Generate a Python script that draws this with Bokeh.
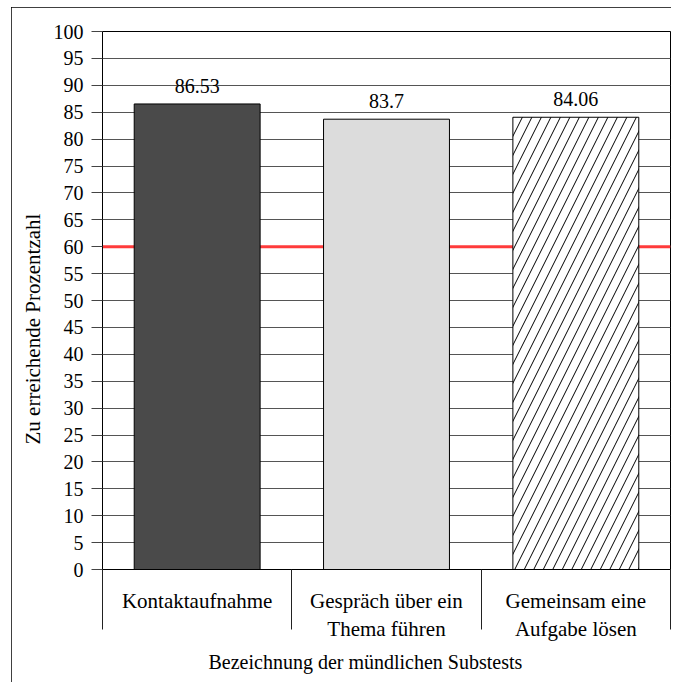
from bokeh.plotting import figure
from bokeh.models import (FactorRange, Range1d, LinearAxis, FixedTicker, Span,
                          Title, ColumnDataSource)
from bokeh.core.properties import value
from bokeh.embed import file_html
from bokeh.resources import INLINE

# ---- data ----
categories = ["Kontaktaufnahme", "Gespräch über ein Thema führen",
              "Gemeinsam eine Aufgabe lösen"]
category_labels = ["Kontaktaufnahme", "Gespräch über ein\nThema führen",
                   "Gemeinsam eine\nAufgabe lösen"]
values = [86.53, 83.7, 84.06]
value_labels = ["86.53", "83.7", "84.06"]
bar_colors = ["#4a4a4a", "#dcdcdc", "#ffffff"]
bar_hatches = [" ", " ", "/"]
y_ticks = [0, 5, 10, 15, 20, 25, 30, 35, 40, 45, 50,
           55, 60, 65, 70, 75, 80, 85, 90, 95, 100]
threshold = 60
x_title = "Bezeichnung der mündlichen Substests"
y_title = "Zu erreichende Prozentzahl"

FONT = "Liberation Serif"
FS = "20px"
FS_CAT = "21px"

src = ColumnDataSource(dict(cat=categories, val=values, lbl=value_labels,
                            color=bar_colors, hatch=bar_hatches))

p = figure(width=660, height=675,
           x_range=FactorRange(factors=categories, range_padding=0),
           y_range=Range1d(0, 100),
           x_axis_type=None,
           output_backend="svg", toolbar_location=None,
           min_border_left=91, min_border_right=1,
           min_border_top=24, min_border_bottom=113)
p.styles = {"outline": "1px solid black", "outline-offset": "-1px",
            "margin-left": "11px", "margin-top": "7px"}

p.outline_line_color = "black"
p.outline_line_width = 1
p.background_fill_color = "white"
p.border_fill_color = "white"

# y axis
yax = p.yaxis[0]
yax.ticker = FixedTicker(ticks=y_ticks)
yax.major_tick_out = 11
yax.major_tick_in = 0
yax.major_tick_line_color = "#444444"
yax.minor_tick_line_color = None
yax.axis_line_color = "black"
yax.major_label_standoff = 8
yax.major_label_text_font = FONT
yax.major_label_text_font_size = FS
yax.major_label_text_color = "black"

p.ygrid.ticker = FixedTicker(ticks=y_ticks)
p.ygrid.grid_line_color = "#555555"
p.ygrid.grid_line_width = 1
for g in p.xgrid:
    g.visible = False

# threshold line
p.add_layout(Span(location=threshold, dimension="width", line_color="#ff3b3b",
                  line_width=3, level="underlay"))

# bars
p.vbar(x="cat", top="val", width=0.665, source=src, fill_color="color",
       line_color="black", line_width=1, hatch_pattern="hatch",
       hatch_color="black", hatch_scale=19, hatch_weight=1)

p.text(x="cat", y="val", text="lbl", source=src, text_align="center",
       text_baseline="alphabetic", y_offset=-18, text_font=value(FONT),
       text_font_size=FS, text_color="black")

# x axis: labels at category centres, separators at category boundaries
centers = [i + 0.5 for i in range(len(categories))]
bounds = [float(i) for i in range(len(categories) + 1)]
xax = LinearAxis(ticker=FixedTicker(ticks=centers, minor_ticks=bounds),
                 major_label_overrides=dict(zip(centers, category_labels)),
                 major_tick_out=0, major_tick_in=0,
                 minor_tick_out=60, minor_tick_in=0,
                 minor_tick_line_color="#222222",
                 axis_line_color="black",
                 major_label_standoff=-41,
                 major_label_text_font=FONT,
                 major_label_text_font_size=FS_CAT,
                 major_label_text_color="black")
p.add_layout(xax, "below")

p.add_layout(Title(text=x_title, align="left", offset=106,
                   text_font=FONT, text_font_size=FS, text_font_style="normal",
                   text_color="black", standoff=8), "below")
p.add_layout(Title(text=y_title, align="left", offset=125,
                   text_font=FONT, text_font_size=FS_CAT, text_font_style="normal",
                   text_color="black", standoff=12), "left")

open("out.html", "w").write(file_html(p, INLINE))
